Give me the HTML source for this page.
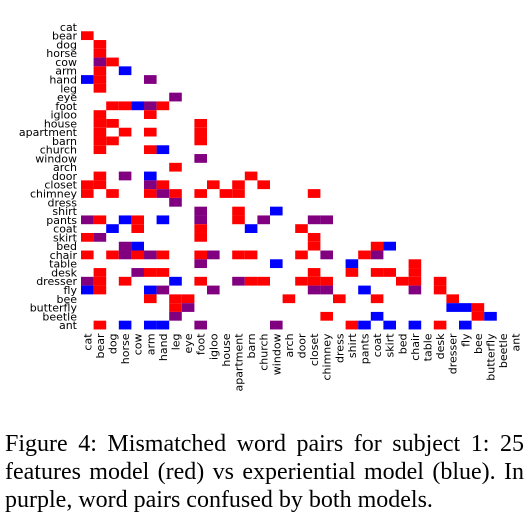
<!DOCTYPE html>
<html><head><meta charset="utf-8">
<style>
html,body{margin:0;padding:0;background:#fff;}
body{width:531px;height:529px;overflow:hidden;position:relative;}
#caption{position:absolute;left:5px;top:430px;width:519px;font-family:"Liberation Serif",serif;font-size:24px;line-height:28px;color:#000;}
#caption div{text-align:justify;text-align-last:justify;white-space:nowrap;}
#caption div.last{text-align-last:left;}
</style></head>
<body>
<svg id="chart" width="531" height="420" style="position:absolute;left:0;top:0" xmlns="http://www.w3.org/2000/svg"></svg>
<div id="caption">
<div>Figure 4: Mismatched word pairs for subject 1: 25</div>
<div>features model (red) vs experiential model (blue). In</div>
<div class="last">purple, word pairs confused by both models.</div>
</div>
<script>
const words = ["cat","bear","dog","horse","cow","arm","hand","leg","eye","foot","igloo","house","apartment","barn","church","window","arch","door","closet","chimney","dress","shirt","pants","coat","skirt","bed","chair","table","desk","dresser","fly","bee","butterfly","beetle","ant"];
// [row, col, type] type: r=features model, b=experiential model, p=both
const cells = [
[1,0,"r"],[2,1,"r"],[3,1,"r"],[4,1,"p"],[4,2,"r"],[5,1,"r"],[5,3,"b"],
[6,0,"b"],[6,1,"r"],[6,5,"p"],[7,1,"r"],[8,7,"p"],
[9,2,"r"],[9,3,"r"],[9,4,"b"],[9,5,"p"],[9,6,"r"],
[10,1,"r"],[10,5,"r"],[11,1,"r"],[11,2,"r"],[11,9,"r"],
[12,1,"r"],[12,3,"r"],[12,5,"r"],[12,9,"r"],[13,1,"r"],[13,2,"r"],[13,9,"r"],
[14,1,"r"],[14,5,"r"],[14,6,"b"],[15,9,"p"],[16,7,"r"],
[17,1,"r"],[17,3,"p"],[17,5,"b"],[17,13,"r"],
[18,0,"r"],[18,1,"r"],[18,5,"p"],[18,6,"r"],[18,10,"r"],[18,12,"r"],[18,14,"r"],
[19,0,"r"],[19,2,"r"],[19,5,"r"],[19,6,"p"],[19,7,"r"],[19,9,"r"],[19,11,"r"],[19,12,"r"],[19,18,"r"],
[20,7,"p"],[21,9,"p"],[21,12,"r"],[21,15,"b"],
[22,0,"p"],[22,1,"r"],[22,3,"b"],[22,4,"r"],[22,6,"b"],[22,9,"p"],[22,12,"r"],[22,14,"p"],[22,18,"p"],[22,19,"p"],
[23,2,"b"],[23,4,"r"],[23,9,"r"],[23,13,"b"],[23,17,"r"],
[24,0,"r"],[24,1,"p"],[24,9,"r"],[24,18,"r"],
[25,3,"p"],[25,4,"b"],[25,18,"r"],[25,23,"r"],[25,24,"b"],
[26,0,"r"],[26,2,"r"],[26,3,"p"],[26,4,"r"],[26,5,"p"],[26,6,"r"],[26,9,"r"],[26,10,"p"],[26,12,"r"],[26,13,"r"],[26,17,"r"],[26,19,"p"],[26,22,"r"],[26,23,"p"],
[27,9,"p"],[27,15,"b"],[27,21,"b"],[27,26,"r"],
[28,1,"r"],[28,4,"p"],[28,5,"r"],[28,6,"r"],[28,18,"r"],[28,21,"r"],[28,23,"r"],[28,24,"r"],[28,26,"r"],
[29,0,"p"],[29,1,"r"],[29,3,"r"],[29,7,"b"],[29,9,"r"],[29,12,"p"],[29,13,"r"],[29,14,"r"],[29,17,"r"],[29,18,"r"],[29,19,"r"],[29,25,"r"],[29,26,"r"],[29,28,"r"],
[30,0,"b"],[30,1,"r"],[30,5,"b"],[30,6,"p"],[30,10,"p"],[30,18,"p"],[30,19,"p"],[30,22,"b"],[30,26,"p"],[30,28,"r"],
[31,5,"r"],[31,7,"r"],[31,8,"r"],[31,16,"r"],[31,20,"r"],[31,23,"r"],[31,29,"r"],
[32,7,"r"],[32,8,"p"],[32,29,"b"],[32,30,"b"],[32,31,"r"],
[33,7,"p"],[33,19,"r"],[33,23,"b"],[33,31,"r"],[33,32,"b"],
[34,1,"r"],[34,3,"b"],[34,5,"b"],[34,6,"b"],[34,9,"p"],[34,15,"p"],[34,21,"r"],[34,22,"b"],[34,24,"b"],[34,26,"b"],[34,28,"r"],[34,30,"b"]
];
const colors = {r:"#ff0000", b:"#0000ff", p:"#800080"};
const X0 = 81, CW = 12.6, Y0 = 22.5, RH = 8.77;
function xs(i){ return X0 + i*CW; }
function ys(i){ return Y0 + i*RH; }
const svg = document.getElementById('chart');
const NS = "http://www.w3.org/2000/svg";
words.forEach((w,i)=>{
  const t = document.createElementNS(NS,'text');
  
  
  t.setAttribute('x', 77);
  t.setAttribute('y', ys(i) + RH/2 + 4);
  t.setAttribute('text-anchor','end');
  t.setAttribute('font-family','DejaVu Sans, sans-serif');
  t.setAttribute('font-size','11');
  t.textContent = w;
  svg.appendChild(t);
  const u = document.createElementNS(NS,'text');
  
  
  const cx = xs(i) + CW/2 + 4;
  const ty = ys(words.length) + 4;
  u.setAttribute('x', cx);
  u.setAttribute('y', ty);
  u.setAttribute('text-anchor','end');
  u.setAttribute('transform','rotate(-90 '+cx+' '+ty+')');
  u.setAttribute('font-family','DejaVu Sans, sans-serif');
  u.setAttribute('font-size','11');
  u.textContent = w;
  svg.appendChild(u);
});
cells.forEach(c=>{
  const r = document.createElementNS(NS,'rect');
  
  
  r.setAttribute('x', xs(c[1]));
  r.setAttribute('y', ys(c[0]));
  r.setAttribute('width', CW);
  r.setAttribute('height', RH);
  r.setAttribute('fill', colors[c[2]]);
  svg.appendChild(r);
});
</script>
</body></html>
